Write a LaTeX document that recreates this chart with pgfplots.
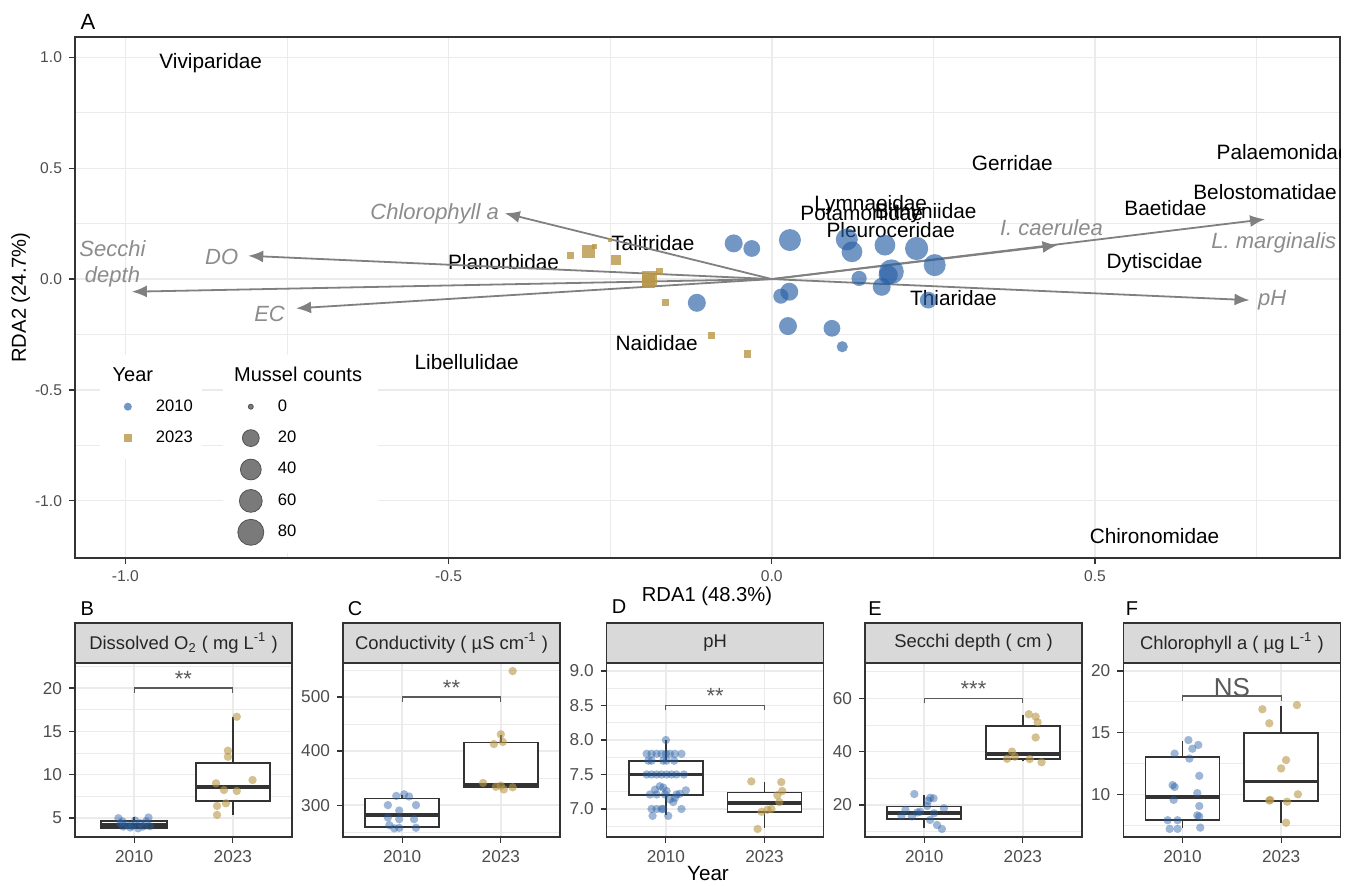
\documentclass[border=0pt]{standalone}
\usepackage{fontspec}
\setmainfont{Liberation Sans}
\usepackage{pgfplots}
\pgfplotsset{compat=1.18}
\usepgfplotslibrary{statistics}
\usetikzlibrary{arrows.meta}

\definecolor{siteblue}{RGB}{40,95,165}
\definecolor{sitegold}{RGB}{185,150,70}
\definecolor{arrowgray}{RGB}{128,128,128}
\definecolor{labgray}{RGB}{140,140,140}
\definecolor{gridgray}{RGB}{235,235,235}
\definecolor{gray30}{RGB}{77,77,77}
\definecolor{gray20}{RGB}{51,51,51}
\definecolor{stripgray}{RGB}{217,217,217}
\definecolor{siggray}{RGB}{90,90,90}

\tikzset{sigtxt/.style={anchor=base, text=siggray, font=\fontsize{11}{12}\selectfont}}

\pgfplotsset{
  common/.style={
    scale only axis, anchor=south west,
    tick pos=left, tick align=outside,
    major tick length=3pt, minor tick length=0pt,
    grid=both,
    major grid style={gridgray, line width=0.7pt},
    minor grid style={gridgray, line width=0.35pt},
    axis line style={gray20, line width=0.6pt},
    tick style={gray20, line width=0.6pt},
    /pgf/number format/assume math mode=true,
  },
  boxpanel/.style={
    common,
    width=108.5pt, height=87pt,
    xmin=0.4, xmax=2.6, xtick={1,2}, xticklabels={2010,2023},
    tick label style={font=\fontsize{8.6}{10}\selectfont, text=gray30},
    every axis title/.style={at={(0.5,1)}, anchor=south, fill=stripgray, draw=gray20,
      line width=0.6pt, outer sep=0pt, minimum width=108.5pt, minimum height=20pt,
      inner sep=0pt, font=\fontsize{9.2}{11}\selectfont, text=black!85},
    boxplot/draw direction=y,
    boxplot/box extend=0.75, boxplot/whisker extend=0,
    boxplot/every median/.style={line width=1.8pt},
  },
  bx/.style={draw=gray20, fill=white, line width=0.9pt},
  p10/.style={only marks, mark=*, mark size=2.1pt, mark options={draw=siteblue, draw opacity=0, fill=siteblue, fill opacity=0.45}},
  p23/.style={only marks, mark=*, mark size=2.1pt, mark options={draw=sitegold, draw opacity=0, fill=sitegold, fill opacity=0.6}},
  sig/.style={siggray, line width=0.6pt},
  mylegend/.style={
    legend cell align=left,
    legend image code/.code={\path (-9pt,-7.65pt) (9pt,7.65pt); \draw[##1] plot coordinates {(0pt,0pt)};},
    legend style={anchor=north west, fill=white, draw=none, inner xsep=4.5pt, inner ysep=2.5pt,
      row sep=0pt, cells={anchor=west}, nodes={inner sep=0pt, anchor=west},
      font=\fontsize{8.3}{10}\selectfont},
  },
  arr/.style={arrowgray, line width=0.9pt, -{Latex[length=7.5pt,width=6pt]}},
}

\begin{document}
\begin{tikzpicture}
\useasboundingbox (0,0) rectangle (676pt,443pt);

% ---------------- main RDA panel ----------------
\begin{axis}[common, mylegend,
  at={(37.5pt,164pt)}, width=632.5pt, height=260.5pt,
  xmin=-1.078, xmax=0.879, ymin=-1.258, ymax=1.092,
  xtick={-1,-0.5,0,0.5}, xticklabels={-1.0,-0.5,0.0,0.5},
  ytick={-1,-0.5,0,0.5,1}, yticklabels={-1.0,-0.5,0.0,0.5,1.0},
  minor xtick={-0.75,-0.25,0.25,0.75}, minor ytick={-0.75,-0.25,0.25,0.75},
  tick label style={font=\fontsize{7.8}{9}\selectfont, text=gray30},
  legend style={at={(0.0198,0.3896)}, column sep=4.85pt},
]
\addlegendimage{draw=none, mark=none}
\addlegendentry{\makebox[10pt][l]{\hspace*{-21.65pt}\fontsize{10}{12}\selectfont Year}}
\addlegendimage{only marks, mark=*, mark size=2pt, mark options={draw=siteblue, draw opacity=0, fill=siteblue, fill opacity=0.65}}
\addlegendentry{2010}
\addlegendimage{only marks, mark=square*, mark size=2pt, mark options={draw=sitegold, draw opacity=0, fill=sitegold, fill opacity=0.8}}
\addlegendentry{2023}

% sites 2010 (size = mussel counts)
\addplot[scatter, only marks, mark=*,
  scatter/use mapped color={draw=siteblue, draw opacity=0, fill=siteblue, fill opacity=0.65},
  visualization depends on={\thisrow{r} \as \rr},
  scatter/@pre marker code/.append style={/tikz/mark size=\rr}]
  table {
  x y r
  -0.059 0.161 4.5
  -0.031 0.138 4.2
  0.028 0.176 5.5
  0.116 0.179 5.5
  0.124 0.123 5.2
  0.175 0.153 5.2
  0.224 0.138 5.8
  0.252 0.063 5.5
  0.185 0.033 6.2
  0.180 0.018 4.8
  0.135 0.003 3.8
  0.170 -0.035 4.5
  0.242 -0.095 4.2
  0.027 -0.057 4.5
  0.014 -0.077 3.8
  -0.116 -0.107 4.5
  0.025 -0.212 4.5
  0.093 -0.222 4.2
  0.109 -0.305 2.8
  };
% sites 2023
\addplot[scatter, only marks, mark=square*,
  scatter/use mapped color={draw=sitegold, draw opacity=0, fill=sitegold, fill opacity=0.8},
  visualization depends on={\thisrow{r} \as \rr},
  scatter/@pre marker code/.append style={/tikz/mark size=\rr}]
  table {
  x y r
  -0.312 0.108 1.8
  -0.284 0.123 3.2
  -0.274 0.146 1.3
  -0.241 0.086 2.5
  -0.251 0.176 1.0
  -0.189 0.003 3.8
  -0.174 0.033 1.8
  -0.191 -0.012 3.3
  -0.164 -0.107 1.8
  -0.093 -0.255 1.8
  -0.038 -0.338 1.8
  };

% taxa labels
\begin{scope}[every node/.style={font=\fontsize{10.4}{12}\selectfont, text=black}]
\node at (-0.868,0.973) {Viviparidae};
\node at (0.372,0.523) {Gerridae};
\node at (0.791,0.572) {Palaemonidae};
\node at (0.763,0.392) {Belostomatidae};
\node at (0.609,0.320) {Baetidae};
\node at (0.592,0.072) {Dytiscidae};
\node at (0.281,-0.086) {Thiaridae};
\node at (0.184,0.221) {Pleuroceridae};
\node at (0.153,0.333) {Lymnaeidae};
\node at (0.139,0.297) {Potamonidae};
\node at (0.238,0.297) {Bithyniidae};
\node at (-0.415,0.077) {Planorbidae};
\node at (-0.184,0.162) {Talitridae};
\node at (-0.178,-0.288) {Naididae};
\node at (-0.472,-0.374) {Libellulidae};
\node at (0.592,-1.158) {Chironomidae};
\end{scope}

% environmental / mussel arrows
\addplot[arr] coordinates {(0,0) (-0.413,0.297)};
\addplot[arr] coordinates {(0,0) (-0.810,0.105)};
\addplot[arr] coordinates {(0,0) (-0.990,-0.057)};
\addplot[arr] coordinates {(0,0) (-0.736,-0.132)};
\addplot[arr] coordinates {(0,0) (0.442,0.153)};
\addplot[arr] coordinates {(0,0) (0.763,0.270)};
\addplot[arr] coordinates {(0,0) (0.739,-0.095)};

\begin{scope}[every node/.style={font=\fontsize{11}{13}\selectfont\itshape, text=labgray}]
\node at (-0.5216,0.296) {Chlorophyll a};
\node at (-0.851,0.099) {DO};
\node[align=center] at (-1.020,0.071) {Secchi\\depth};
\node at (-0.777,-0.157) {EC};
\node at (0.4325,0.234) {I. caerulea};
\node at (0.7766,0.162) {L. marginalis};
\node at (0.774,-0.095) {pH};
\end{scope}
\end{axis}

% second legend (mussel counts)
\begin{axis}[mylegend, at={(37.5pt,164pt)}, anchor=south west, scale only axis,
  width=632.5pt, height=260.5pt, hide axis, xmin=0, xmax=1, ymin=0, ymax=1,
  legend style={at={(0.117,0.3896)}, column sep=4.35pt}]
\addlegendimage{draw=none, mark=none}
\addlegendentry{\makebox[45.6pt][l]{\hspace*{-21.85pt}\fontsize{10}{12}\selectfont Mussel counts}}
\addlegendimage{only marks, mark=*, mark size=1.25pt, mark options={fill=black!52, draw=black!68, line width=0.4pt}}
\addlegendentry{0}
\addlegendimage{only marks, mark=*, mark size=4.2pt, mark options={fill=black!52, draw=black!68, line width=0.4pt}}
\addlegendentry{20}
\addlegendimage{only marks, mark=*, mark size=5.2pt, mark options={fill=black!52, draw=black!68, line width=0.4pt}}
\addlegendentry{40}
\addlegendimage{only marks, mark=*, mark size=5.7pt, mark options={fill=black!52, draw=black!68, line width=0.4pt}}
\addlegendentry{60}
\addlegendimage{only marks, mark=*, mark size=6.5pt, mark options={fill=black!52, draw=black!68, line width=0.4pt}}
\addlegendentry{80}
\end{axis}

% ---------------- B: dissolved O2 ----------------
\begin{axis}[boxpanel, at={(37.5pt,24.5pt)}, ymin=2.8, ymax=22.9,
  ytick={5,10,15,20}, minor ytick={7.5,12.5,17.5,22.5},
  title={Dissolved O\textsubscript{2} ( mg L\textsuperscript{-1} )}]
\addplot[bx, boxplot prepared={draw position=1, box extend=0.67, lower whisker=3.75, lower quartile=3.88, median=4.2, upper quartile=4.62, upper whisker=5.1}] coordinates {};
\addplot[bx, boxplot prepared={draw position=2, lower whisker=5.3, lower quartile=7.0, median=8.6, upper quartile=11.38, upper whisker=16.7}] coordinates {};
\addplot[p10] coordinates {(0.84,4.97) (1.145,5.05) (1.06,4.39) (0.89,4.0) (0.96,3.9) (1.09,4.0) (1.16,4.05) (0.86,4.39) (1.01,4.7) (1.04,3.8) (0.93,4.2) (1.12,4.6) (0.98,4.1) (0.88,4.6)};
\addplot[p23] coordinates {(2.04,16.69) (1.95,12.77) (1.95,12.07) (2.2,9.38) (1.83,9.0) (1.91,8.23) (2.04,8.12) (1.93,6.69) (1.84,6.38) (1.84,5.35)};
\addplot[sig] coordinates {(1,19.45) (1,20) (2,20) (2,19.45)};
\node[sigtxt] at (1.5,20.2) {**};
\end{axis}

% ---------------- C: conductivity ----------------
\begin{axis}[boxpanel, at={(171.5pt,24.5pt)}, ymin=241, ymax=563,
  ytick={300,400,500}, minor ytick={250,350,450,550},
  title={Conductivity ( µS cm\textsuperscript{-1} )}]
\addplot[bx, boxplot prepared={draw position=1, lower whisker=258, lower quartile=260, median=281.6, upper quartile=312.3, upper whisker=318}] coordinates {};
\addplot[bx, boxplot prepared={draw position=2, lower whisker=331, lower quartile=333.7, median=338, upper quartile=416, upper whisker=429.5}] coordinates {};
\addplot[p10] coordinates {(0.855,300) (0.94,317) (1.02,320) (1.07,316) (1.14,300) (0.97,290) (0.855,277) (0.97,274) (1.12,274) (0.87,263) (0.92,257) (0.97,258) (1.14,258)};
\addplot[p23] coordinates {(2.12,548) (2.0,431) (1.93,413) (2.02,417) (1.82,341) (1.95,334) (2.03,329) (2.12,333) (2.0,336)};
\addplot[sig] coordinates {(1,491.3) (1,500) (2,500) (2,491.3)};
\node[sigtxt] at (1.5,503) {**};
\end{axis}

% ---------------- D: pH ----------------
\begin{axis}[boxpanel, at={(303.35pt,24.5pt)}, ymin=6.594, ymax=9.116,
  ytick={7,7.5,8,8.5,9}, yticklabels={7.0,7.5,8.0,8.5,9.0},
  minor ytick={6.75,7.25,7.75,8.25,8.75},
  title={pH}]
\addplot[bx, boxplot prepared={draw position=1, lower whisker=6.91, lower quartile=7.2, median=7.5, upper quartile=7.7, upper whisker=8.0}] coordinates {};
\addplot[bx, boxplot prepared={draw position=2, lower whisker=6.72, lower quartile=6.96, median=7.09, upper quartile=7.24, upper whisker=7.39}] coordinates {};
\addplot[p10] coordinates {
 (1.0,8.0)
 (0.805,7.8) (0.855,7.8) (0.906,7.8) (0.956,7.8) (1.0,7.8) (1.040,7.8) (1.091,7.8) (1.158,7.8)
 (0.822,7.7) (0.855,7.7) (0.973,7.7) (1.007,7.7) (1.084,7.7)
 (0.805,7.5) (0.855,7.5) (0.906,7.5) (0.956,7.5) (1.007,7.5) (1.057,7.5) (1.108,7.5) (1.182,7.5)
 (0.939,7.33) (0.973,7.31) (0.889,7.28)
 (1.202,7.27) (1.007,7.26)
 (0.838,7.21) (0.906,7.21) (0.990,7.21) (1.108,7.21) (1.141,7.22)
 (1.091,7.16) (1.040,7.14) (1.074,7.10)
 (0.855,7.0) (0.956,7.0) (0.973,7.0) (1.158,7.0) (0.906,7.0)
 (0.865,6.90) (1.024,6.90)};
\addplot[p23] coordinates {(1.866,7.40) (2.17,7.39) (2.18,7.26) (2.13,7.20) (2.15,7.10) (2.07,7.0) (1.97,6.96) (1.93,6.71) (2.03,6.99)};
\addplot[sig] coordinates {(1,8.43) (1,8.5) (2,8.5) (2,8.43)};
\node[sigtxt] at (1.5,8.53) {**};
\end{axis}

% ---------------- E: Secchi depth ----------------
\begin{axis}[boxpanel, at={(432.5pt,24.5pt)}, ymin=8.0, ymax=73.2,
  ytick={20,40,60}, minor ytick={10,30,50,70},
  title={Secchi depth ( cm )}]
\addplot[bx, boxplot prepared={draw position=1, lower whisker=11.3, lower quartile=14.6, median=17.1, upper quartile=19.4, upper whisker=23.75}] coordinates {};
\addplot[bx, boxplot prepared={draw position=2, lower whisker=36.3, lower quartile=37.1, median=39.1, upper quartile=49.6, upper whisker=53.8}] coordinates {};
\addplot[p10] coordinates {(0.90,24.1) (1.06,22.7) (1.095,22.5) (1.04,21.6) (0.81,18.1) (0.96,17.5) (1.2,18.75) (0.77,15.9) (0.875,15.7) (1.06,14.4) (1.13,12.5) (1.18,11.0) (1.03,19.6) (0.93,17.2) (1.10,16.9)};
\addplot[p23] coordinates {(2.06,54.0) (2.13,53.1) (2.15,51.0) (2.13,45.3) (1.89,40.0) (1.84,37.3) (1.92,38.1) (2.07,37.2) (2.19,36.0)};
\addplot[sig] coordinates {(1,58.1) (1,60) (2,60) (2,58.1)};
\node[sigtxt] at (1.5,60.8) {***};
\end{axis}

% ---------------- F: chlorophyll a ----------------
\begin{axis}[boxpanel, at={(561.65pt,24.5pt)}, ymin=6.54, ymax=20.65,
  ytick={10,15,20}, minor ytick={7.5,12.5,17.5},
  title={Chlorophyll a ( µg L\textsuperscript{-1} )}]
\addplot[bx, boxplot prepared={draw position=1, lower whisker=7.24, lower quartile=7.92, median=9.76, upper quartile=13.05, upper whisker=14.32}] coordinates {};
\addplot[bx, boxplot prepared={draw position=2, lower whisker=7.65, lower quartile=9.46, median=11.05, upper quartile=15.0, upper whisker=17.16}] coordinates {};
\addplot[p10] coordinates {(1.06,14.4) (1.16,14.0) (1.10,13.7) (0.92,13.3) (1.07,12.9) (1.17,11.5) (0.90,10.75) (0.92,10.6) (1.15,10.1) (0.91,9.55) (1.17,9.05) (1.15,8.3) (1.17,8.2) (0.85,7.9) (0.95,7.9) (0.87,7.2) (0.95,7.2) (1.18,7.3)};
\addplot[p23] coordinates {(1.81,16.9) (2.16,17.24) (1.88,15.76) (2.05,12.78) (2.0,12.1) (1.89,9.54) (2.06,9.4) (2.17,10.0) (2.05,7.7) (1.88,9.5)};
\addplot[sig] coordinates {(1,17.6) (1,17.97) (2,17.97) (2,17.6)};
\node[sigtxt, font=\fontsize{13}{14}\selectfont] at (1.5,17.97) {NS};
\end{axis}

% ---------------- labels ----------------
\node[font=\fontsize{11}{12}\selectfont] at (44pt,432.2pt) {A};
\node[font=\fontsize{10}{12}\selectfont] at (43.65pt,138.85pt) {B};
\node[font=\fontsize{10}{12}\selectfont] at (177.5pt,138.9pt) {C};
\node[font=\fontsize{10}{12}\selectfont] at (309.5pt,139.6pt) {D};
\node[font=\fontsize{10}{12}\selectfont] at (437.5pt,138.9pt) {E};
\node[font=\fontsize{10}{12}\selectfont] at (566pt,138.9pt) {F};
\node[font=\fontsize{10.1}{12}\selectfont] at (353.5pt,145pt) {RDA1 (48.3\%)};
\node[font=\fontsize{10.1}{12}\selectfont, rotate=90] at (10.3pt,294.25pt) {RDA2 (24.7\%)};
\node[font=\fontsize{10.3}{12}\selectfont] at (354pt,6pt) {Year};
\end{tikzpicture}
\end{document}
